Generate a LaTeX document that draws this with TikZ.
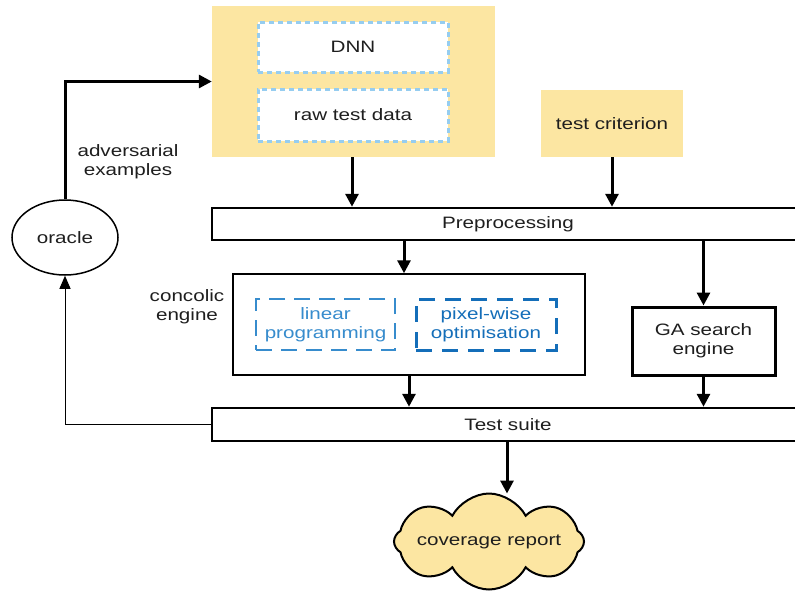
\documentclass[tikz,border=0pt]{standalone}
\usepackage{fontspec}
\setmainfont{Liberation Sans}[FakeStretch=1.25]
\usetikzlibrary{arrows.meta,shapes.symbols,shapes.geometric,calc}
\definecolor{ylw}{RGB}{252,230,162}
\definecolor{dotblue}{RGB}{150,205,240}
\definecolor{linblue}{RGB}{55,140,205}
\definecolor{pixblue}{RGB}{20,110,185}
\definecolor{txt}{RGB}{30,30,30}
\tikzset{
  ybox/.style={fill=ylw,draw=none,inner sep=0},
  dotbox/.style={fill=white,draw=dotblue,line width=3pt,dash pattern=on 5pt off 4pt,inner sep=0},
  bar/.style={draw=black,line width=2.5pt,fill=white,inner sep=0},
  plainbox/.style={draw=black,line width=1.5pt,fill=white,inner sep=0},
  thickbox/.style={draw=black,line width=3pt,fill=white,inner sep=0,align=center},
  linbox/.style={draw=linblue,line width=2pt,dash pattern=on 16pt off 9pt,text=linblue,inner sep=0,align=center},
  pixbox/.style={draw=pixblue,line width=3pt,dash pattern=on 16pt off 10pt,text=pixblue,inner sep=0,align=center},
  arr/.style={line width=3pt,-{Triangle[length=13pt,width=13pt]}},
  thinarr/.style={line width=1pt,-{Triangle[length=13pt,width=11pt]}},
  lbl/.style={align=center,inner sep=0,text=txt},
}
\begin{document}
\begin{tikzpicture}[x=1pt,y=-1pt,font=\fontsize{16.5}{19}\selectfont,text=txt]
\useasboundingbox (0,0) rectangle (795,592);
\clip (0,0) rectangle (795,592);
% top yellow box
\node[ybox,minimum width=283pt,minimum height=151pt] (top) at (353.5,81.5) {};
\node[dotbox,minimum width=190pt,minimum height=50pt] (dnn) at (353,47) {DNN};
\node[dotbox,minimum width=190pt,minimum height=52pt] (raw) at (353,115) {raw test data};
\node[ybox,minimum width=142pt,minimum height=67pt] (crit) at (612,123.5) {test criterion};
% bars
\node[bar,minimum width=592pt,minimum height=32pt] (pre) at (508,224) {Preprocessing};
\node[bar,minimum width=592pt,minimum height=33pt] (test) at (508,424.5) {Test suite};
% concolic
\node[plainbox,minimum width=352pt,minimum height=101pt] (conc) at (409,324.5) {};
\node[linbox,minimum width=139pt,minimum height=51pt] (lin) at (325.5,324.5) {linear\\programming};
\node[pixbox,minimum width=140pt,minimum height=51pt] (pix) at (486,324.5) {pixel-wise\\optimisation};
\node[lbl] (conclbl) at (187,307) {concolic\\engine};
% GA
\node[thickbox,minimum width=143pt,minimum height=68pt] (ga) at (703.5,341) {GA search\\engine};
% cloud
\node[cloud,cloud puffs=8,cloud puff arc=125,aspect=2,draw=black,line width=2pt,fill=ylw,minimum width=190pt,minimum height=96pt,inner sep=0] (cov) at (489,541.5) {};
\node[lbl] (covtxt) at (cov.center) {coverage report};
% oracle
\node[ellipse,draw=black,line width=1.5pt,fill=white,minimum width=106pt,minimum height=75pt,inner sep=0] (oracle) at (65,237.5) {oracle};
\node[lbl] (advlbl) at (128,162) {adversarial\\examples};
% connectors
\draw[arr] ($(top.south)+(-1.5,0)$) -- ($(top.south |- pre.north)+(-1.5,0)$);
\draw[arr] (crit.south) -- (crit.south |- pre.north);
\draw[arr] ($(conc.north |- pre.south)+(-5,0)$) -- ($(conc.north)+(-5,0)$);
\draw[arr] (ga.north |- pre.south) -- (ga.north);
\draw[arr] (conc.south) -- (conc.south |- test.north);
\draw[arr] (ga.south) -- (ga.south |- test.north);
\draw[arr] ($(test.south)+(-1,0)$) -- ($(test.south |- cov.north)+(-1,1)$);
\draw[thinarr] (test.west) -| (oracle.south);
\draw[arr] (oracle.north) |- (top.west);
\end{tikzpicture}
\end{document}
